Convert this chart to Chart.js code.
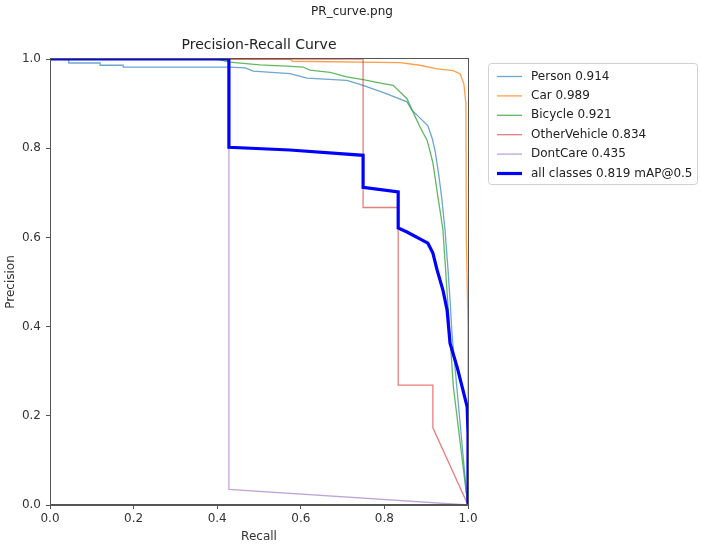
<!DOCTYPE html>
<html>
<head>
<meta charset="utf-8">
<title>PR_curve.png</title>
<script src="https://cdn.jsdelivr.net/npm/chart.js@4.4.0/dist/chart.umd.min.js"></script>
<style>
  html, body { margin: 0; padding: 0; background: #fff; }
</style>
</head>
<body>
<canvas id="prChart" width="701" height="551"></canvas>
<script>
// Data
const classLabels = ['Person 0.914', 'Car 0.989', 'Bicycle 0.921', 'OtherVehicle 0.834', 'DontCare 0.435', 'all classes 0.819 mAP@0.5'];
const tickValues = [0, 0.2, 0.4, 0.6, 0.8, 1.0];

const personRecall    = [0, 0.045, 0.045, 0.12, 0.12, 0.175, 0.175, 0.43, 0.467, 0.486, 0.574, 0.615, 0.71, 0.749, 0.806, 0.854, 0.866, 0.885, 0.904, 0.915, 0.922, 0.93, 0.937, 0.945, 0.952, 0.957, 0.962, 0.998, 1.0];
const personPrecision = [1.0, 1.0, 0.991, 0.991, 0.986, 0.986, 0.982, 0.982, 0.980, 0.973, 0.967, 0.957, 0.952, 0.941, 0.922, 0.904, 0.885, 0.868, 0.85, 0.82, 0.79, 0.74, 0.69, 0.617, 0.53, 0.46, 0.38, 0.01, 0.0];

const carRecall    = [0, 0.575, 0.58, 0.837, 0.885, 0.926, 0.964, 0.981, 0.99, 0.995, 0.996, 1.0, 1.0];
const carPrecision = [1.0, 1.0, 0.995, 0.992, 0.986, 0.978, 0.974, 0.967, 0.945, 0.90, 0.60, 0.40, 0.0];

const bicycleRecall    = [0, 0.40, 0.43, 0.502, 0.567, 0.605, 0.622, 0.67, 0.71, 0.749, 0.797, 0.821, 0.854, 0.866, 0.875, 0.885, 0.895, 0.902, 0.91, 0.916, 0.922, 0.928, 0.934, 0.94, 0.965, 0.998, 1.0];
const bicyclePrecision = [1.0, 1.0, 0.993, 0.987, 0.984, 0.982, 0.975, 0.97, 0.96, 0.954, 0.945, 0.941, 0.911, 0.886, 0.868, 0.848, 0.83, 0.818, 0.79, 0.767, 0.73, 0.691, 0.655, 0.617, 0.265, 0.011, 0.0];

const otherRecall    = [0, 0.749, 0.749, 0.833, 0.833, 0.916, 0.916, 1.0];
const otherPrecision = [1.0, 1.0, 0.667, 0.667, 0.269, 0.269, 0.173, 0.0];

const dontCareRecall    = [0, 0.428, 0.428, 1.0];
const dontCarePrecision = [1.0, 1.0, 0.035, 0.0];

const allRecall    = [0, 0.428, 0.428, 0.574, 0.749, 0.749, 0.833, 0.833, 0.854, 0.904, 0.916, 0.926, 0.94, 0.95, 0.957, 0.974, 0.986, 0.998, 1.0, 1.0];
const allPrecision = [1.0, 1.0, 0.802, 0.796, 0.784, 0.712, 0.702, 0.621, 0.612, 0.587, 0.565, 0.527, 0.482, 0.437, 0.363, 0.309, 0.265, 0.22, 0.161, 0.0];

const lineColors = ['rgba(31,119,180,0.65)', 'rgba(255,127,14,0.75)', 'rgba(44,160,44,0.75)', 'rgba(214,39,40,0.6)', 'rgba(148,103,189,0.6)', '#0000ff'];
const lineWidths = [1.3, 1.3, 1.3, 1.3, 1.3, 3.2];

function zip(xs, ys) {
    return xs.map((x, i) => ({ x: x, y: ys[i] }));
}

const seriesData = [
    zip(personRecall, personPrecision),
    zip(carRecall, carPrecision),
    zip(bicycleRecall, bicyclePrecision),
    zip(otherRecall, otherPrecision),
    zip(dontCareRecall, dontCarePrecision),
    zip(allRecall, allPrecision)
];

Chart.defaults.font.family = "'DejaVu Sans', sans-serif";

// Titles, top/right spines and the legend box drawn like matplotlib
const decorPlugin = {
    id: 'decor',
    afterDraw(chart) {
        const ctx = chart.ctx;
        const area = chart.chartArea;
        ctx.save();

        // frame
        ctx.strokeStyle = '#555';
        ctx.lineWidth = 1;
        ctx.strokeRect(Math.round(area.left) + 0.5, Math.round(area.top) - 0.5, Math.round(area.right - area.left), Math.round(area.bottom - area.top));

        // titles
        ctx.fillStyle = '#222';
        ctx.textAlign = 'center';
        ctx.textBaseline = 'middle';
        ctx.font = "12px 'DejaVu Sans'";
        ctx.fillText('PR_curve.png', 352, 12);
        ctx.font = "14px 'DejaVu Sans'";
        ctx.fillText('Precision-Recall Curve', (area.left + area.right) / 2, 45);

        // legend
        const bx = 488, by = 63, bw = 209, bh = 121;
        ctx.fillStyle = '#fff';
        ctx.strokeStyle = '#d0d0d0';
        ctx.lineWidth = 1;
        ctx.beginPath();
        ctx.roundRect(bx + 0.5, by + 0.5, bw, bh, 3);
        ctx.fill();
        ctx.stroke();

        ctx.font = "12px 'DejaVu Sans'";
        ctx.textAlign = 'left';
        chart.data.datasets.forEach((ds, i) => {
            const y = 76.5 + i * 19.4;
            ctx.strokeStyle = ds.borderColor;
            ctx.lineWidth = ds.borderWidth;
            ctx.beginPath();
            ctx.moveTo(497, y);
            ctx.lineTo(522, y);
            ctx.stroke();
            ctx.fillStyle = '#222';
            ctx.fillText(ds.label, 531, y);
        });
        ctx.restore();
    }
};

new Chart(document.getElementById('prChart').getContext('2d'), {
    type: 'line',
    data: {
        datasets: seriesData.map((pts, i) => ({
            label: classLabels[i],
            data: pts,
            borderColor: lineColors[i],
            backgroundColor: lineColors[i],
            borderWidth: lineWidths[i],
            pointRadius: 0,
            tension: 0,
            fill: false,
            order: seriesData.length - 1 - i
        }))
    },
    options: {
        responsive: false,
        animation: false,
        layout: {
            padding: { top: 59, right: 233, bottom: 0, left: 0 }
        },
        plugins: {
            legend: { display: false },
            tooltip: { enabled: false }
        },
        scales: {
            x: {
                type: 'linear',
                min: 0,
                max: 1,
                afterFit(scale) { scale.height = 46; },
                afterBuildTicks(scale) { scale.ticks = tickValues.map(v => ({ value: v })); },
                grid: { drawOnChartArea: false, drawTicks: true, tickLength: 4, color: '#555' },
                border: { color: '#555' },
                ticks: {
                    color: '#333',
                    font: { size: 12 },
                    padding: 3,
                    maxRotation: 0,
                    callback: v => v.toFixed(1)
                },
                title: {
                    display: true,
                    text: 'Recall',
                    color: '#333',
                    font: { size: 12 },
                    padding: { top: 2, bottom: 7 }
                }
            },
            y: {
                type: 'linear',
                min: 0,
                max: 1,
                afterFit(scale) { scale.width = 50; },
                afterBuildTicks(scale) { scale.ticks = tickValues.map(v => ({ value: v })); },
                grid: { drawOnChartArea: false, drawTicks: true, tickLength: 4, color: '#555' },
                border: { color: '#555' },
                ticks: {
                    color: '#333',
                    font: { size: 12 },
                    padding: 5,
                    callback: v => v.toFixed(1)
                },
                title: {
                    display: true,
                    text: 'Precision',
                    color: '#333',
                    font: { size: 12 },
                    padding: { top: 4, bottom: 2 }
                }
            }
        }
    },
    plugins: [decorPlugin]
});
</script>
</body>
</html>
